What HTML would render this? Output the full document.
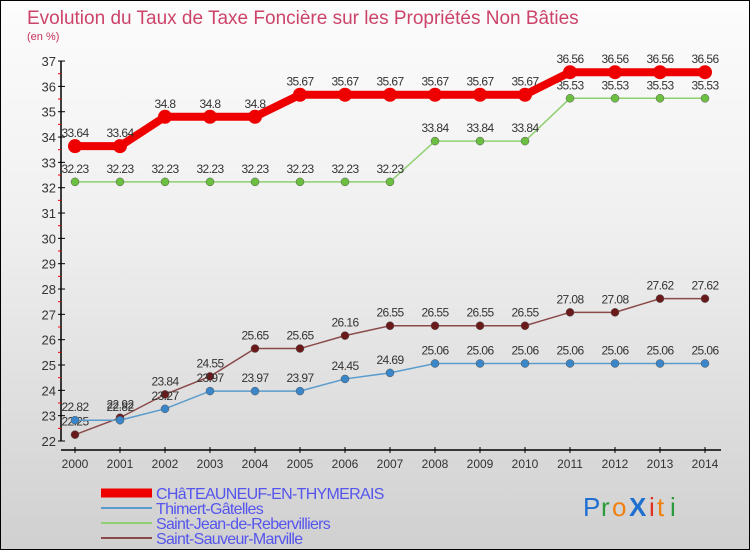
<!DOCTYPE html>
<html><head><meta charset="utf-8"><style>
html,body{margin:0;padding:0}
body{width:750px;height:550px;overflow:hidden;font-family:"Liberation Sans",sans-serif}
#wrap{position:relative;width:748px;height:548px;border:1px solid #000;background:linear-gradient(#fcfcfc,#f0f0f0 40%,#d0d0d0)}
</style></head><body>
<div id="wrap">
<svg id="chart" width="748" height="548">
<text x="26" y="23" font-size="19" fill="#c8305a" opacity="0.9">Evolution du Taux de Taxe Foncière sur les Propriétés Non Bâties</text>
<text x="26" y="39" font-size="11" fill="#c8305a">(en %)</text>
<g id="axes"></g><g id="series"></g><g id="legend"></g>
<g font-size="26" font-family="Liberation Sans, sans-serif">
<text x="582" y="515" fill="#1f6fd0">P</text><text x="600" y="515" fill="#2a9a3a">r</text><text x="611" y="515" fill="#f08010">o</text>
<text x="628" y="515" fill="#1f6fd0" font-weight="bold">X</text><text x="648" y="515" fill="#e03020">i</text><text x="656" y="515" fill="#f08010">t</text><text x="669" y="515" fill="#2a9a3a">i</text>
</g>
</svg></div>
<script>
const years=[2000,2001,2002,2003,2004,2005,2006,2007,2008,2009,2010,2011,2012,2013,2014];
const yTicks=[22,23,24,25,26,27,28,29,30,31,32,33,34,35,36,37];
const seriesNames=["CHâTEAUNEUF-EN-THYMERAIS","Thimert-Gâtelles","Saint-Jean-de-Rebervilliers","Saint-Sauveur-Marville"];
const chateauneuf=[33.64,33.64,34.8,34.8,34.8,35.67,35.67,35.67,35.67,35.67,35.67,36.56,36.56,36.56,36.56];
const thimert=[22.82,22.82,23.27,23.97,23.97,23.97,24.45,24.69,25.06,25.06,25.06,25.06,25.06,25.06,25.06];
const saintJean=[32.23,32.23,32.23,32.23,32.23,32.23,32.23,32.23,33.84,33.84,33.84,35.53,35.53,35.53,35.53];
const saintSauveur=[22.25,22.92,23.84,24.55,25.65,25.65,26.16,26.55,26.55,26.55,26.55,27.08,27.08,27.62,27.62];
const NS="http://www.w3.org/2000/svg";
const X=i=>74+i*45;
const Y=v=>440-(v-22)*25.33;
function mk(tag,attrs,parent,txt){const e=document.createElementNS(NS,tag);for(const k in attrs)e.setAttribute(k,attrs[k]);if(txt!==undefined)e.textContent=txt;parent.appendChild(e);return e;}
const axes=document.getElementById('axes');
let a=mk('line',{x1:60,y1:Y(37),x2:60,y2:Y(22),stroke:'#000','stroke-width':1.5},axes);

a=mk('line',{x1:60,y1:449,x2:720,y2:449,stroke:'#000','stroke-width':1.5},axes);

yTicks.forEach(t=>{
 mk('line',{x1:57,y1:Y(t),x2:64,y2:Y(t),stroke:'#000'},axes);
 if(t<37)mk('line',{x1:57,y1:Y(t+0.5),x2:60,y2:Y(t+0.5),stroke:'#e00'},axes);
 const l=mk('text',{x:55,y:Y(t)+5,'text-anchor':'end','font-size':13,fill:'#333'},axes,String(t));
 
});
years.forEach((yr,i)=>{
 mk('line',{x1:X(i),y1:446,x2:X(i),y2:452,stroke:'#000'},axes);
 const l=mk('text',{x:X(i),y:467,'text-anchor':'middle','font-size':12,fill:'#333'},axes,String(yr));
 
});
const ser=document.getElementById('series');
const defs=[[saintSauveur,'#8b4a4a','#6a1a1a',1.5,4],[thimert,'#5a9ccc','#3a86c8',1.5,4],[saintJean,'#8fd070','#6cc040',1.5,4],[chateauneuf,'#ee0000','#ee0000',8,7]];
const names=['series-saint-sauveur','series-thimert','series-saint-jean','series-chateauneuf'];
defs.forEach((d,si)=>{
 const g=mk('g',{},ser);
 
 const pts=d[0].map((v,i)=>X(i)+','+Y(v)).join(' ');
 mk('polyline',{points:pts,fill:'none',stroke:d[1],'stroke-width':d[3]},g);
 d[0].forEach((v,i)=>{
  const c=mk('circle',{cx:X(i),cy:Y(v),r:d[4],fill:d[2],stroke:si==3?'none':'#555','stroke-width':0.5},g);
  
  const t=mk('text',{x:X(i),y:Y(v)-9,'text-anchor':'middle','font-size':12,fill:'#333','letter-spacing':'-0.6'},g,String(v));
  
 });
});
const leg=document.getElementById('legend');
const lc=[['#ee0000',9],['#5a9ccc',2],['#8fd070',2],['#8b4a4a',2]];
seriesNames.forEach((n,i)=>{
 const g=mk('g',{},leg);
 
 const y=492+i*15;
 mk('line',{x1:100,y1:y,x2:151,y2:y,stroke:lc[i][0],'stroke-width':lc[i][1]},g);
 mk('text',{x:155,y:y+6,'font-size':16,fill:'#5555ee','letter-spacing':'-0.7'},g,n);
});
</script>
</body></html>
